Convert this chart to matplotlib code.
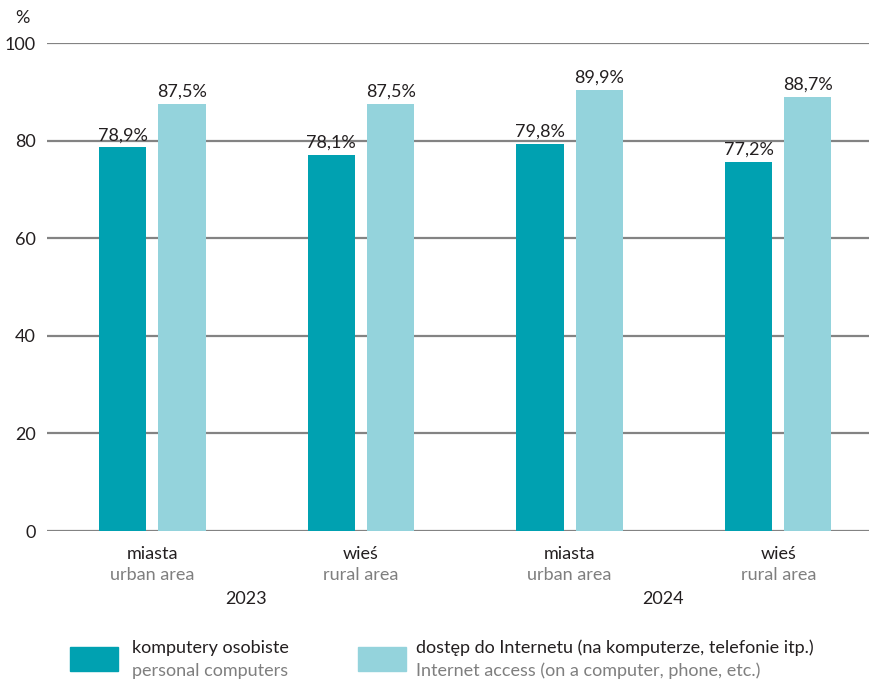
import matplotlib
matplotlib.use('Agg')
import matplotlib.pyplot as plt
from matplotlib.patches import Rectangle
import numpy as np

plt.rcParams['font.family'] = ['Lato', 'DejaVu Sans']

# data
places_pl = ['miasta', 'wieś', 'miasta', 'wieś']
places_en = ['urban area', 'rural area', 'urban area', 'rural area']
years = ['2023', '2024']
pc_values = [78.6, 77.1, 79.4, 75.7]
net_values = [87.6, 87.5, 90.4, 89.0]
pc_labels = ['78,9%', '78,1%', '79,8%', '77,2%']
net_labels = ['87,5%', '87,5%', '89,9%', '88,7%']
legend_pl = ['komputery osobiste',
             'dostęp do Internetu (na komputerze, telefonie itp.)']
legend_en = ['personal computers',
             'Internet access (on a computer, phone, etc.)']

DARK = '#00a1b1'
LIGHT = '#94d3dc'
GRID = '#838383'
TXT = '#231f20'
GREY_TXT = '#7f7f7f'
FS = 13

fig = plt.figure(figsize=(8.7, 6.81), dpi=100)
ax = fig.add_axes([47 / 870, 1 - 531 / 681, 1 - 47 / 870, 488 / 681])

x = np.arange(len(places_pl))
w = 0.226
off = 0.142
b1 = ax.bar(x - off, pc_values, w, color=DARK, zorder=3)
b2 = ax.bar(x + off, net_values, w, color=LIGHT, zorder=3)

for bars, labels in ((b1, pc_labels), (b2, net_labels)):
    for rect, lab in zip(bars, labels):
        ax.annotate(lab, (rect.get_x() + rect.get_width() / 2, rect.get_height()),
                    xytext=(0, 3), textcoords='offset points',
                    ha='center', va='bottom', fontsize=FS, color=TXT)

ax.set_ylim(0, 100)
ax.set_xlim(-0.505, 3.44)
ax.set_yticks(range(0, 101, 20))
ax.yaxis.grid(True, color=GRID, lw=1.6, zorder=0)
ax.set_axisbelow(True)
for s in ax.spines.values():
    s.set_visible(False)
ax.tick_params(axis='y', length=0, pad=8, labelsize=FS, labelcolor=TXT)
ax.set_xticks([])

tr = ax.get_xaxis_transform()
for xi, pl, en in zip(x, places_pl, places_en):
    ax.text(xi, -0.047, pl, transform=tr, ha='center', va='center',
            fontsize=FS, color=TXT)
    ax.text(xi, -0.090, en, transform=tr, ha='center', va='center',
            fontsize=FS, color=GREY_TXT)
for i, yr in enumerate(years):
    ax.text(2 * i + 0.45, -0.139, yr, transform=tr, ha='center', va='center',
            fontsize=FS, color=TXT)

fig.text(15 / 870, 1 - 18 / 681, '%', ha='left', va='center',
         fontsize=FS, color=TXT)

# legend
for (bx, tx), col, pl, en in zip(((70, 132), (358, 416)), (DARK, LIGHT),
                                 legend_pl, legend_en):
    fig.patches.append(Rectangle((bx / 870, 1 - 671 / 681), 48 / 870, 24 / 681,
                                 transform=fig.transFigure, color=col))
    fig.text(tx / 870, 1 - 648 / 681, pl, ha='left', va='center',
             fontsize=FS, color=TXT)
    fig.text(tx / 870, 1 - 671 / 681, en, ha='left', va='center',
             fontsize=FS, color=GREY_TXT)

fig.savefig('out.png', dpi=100)
